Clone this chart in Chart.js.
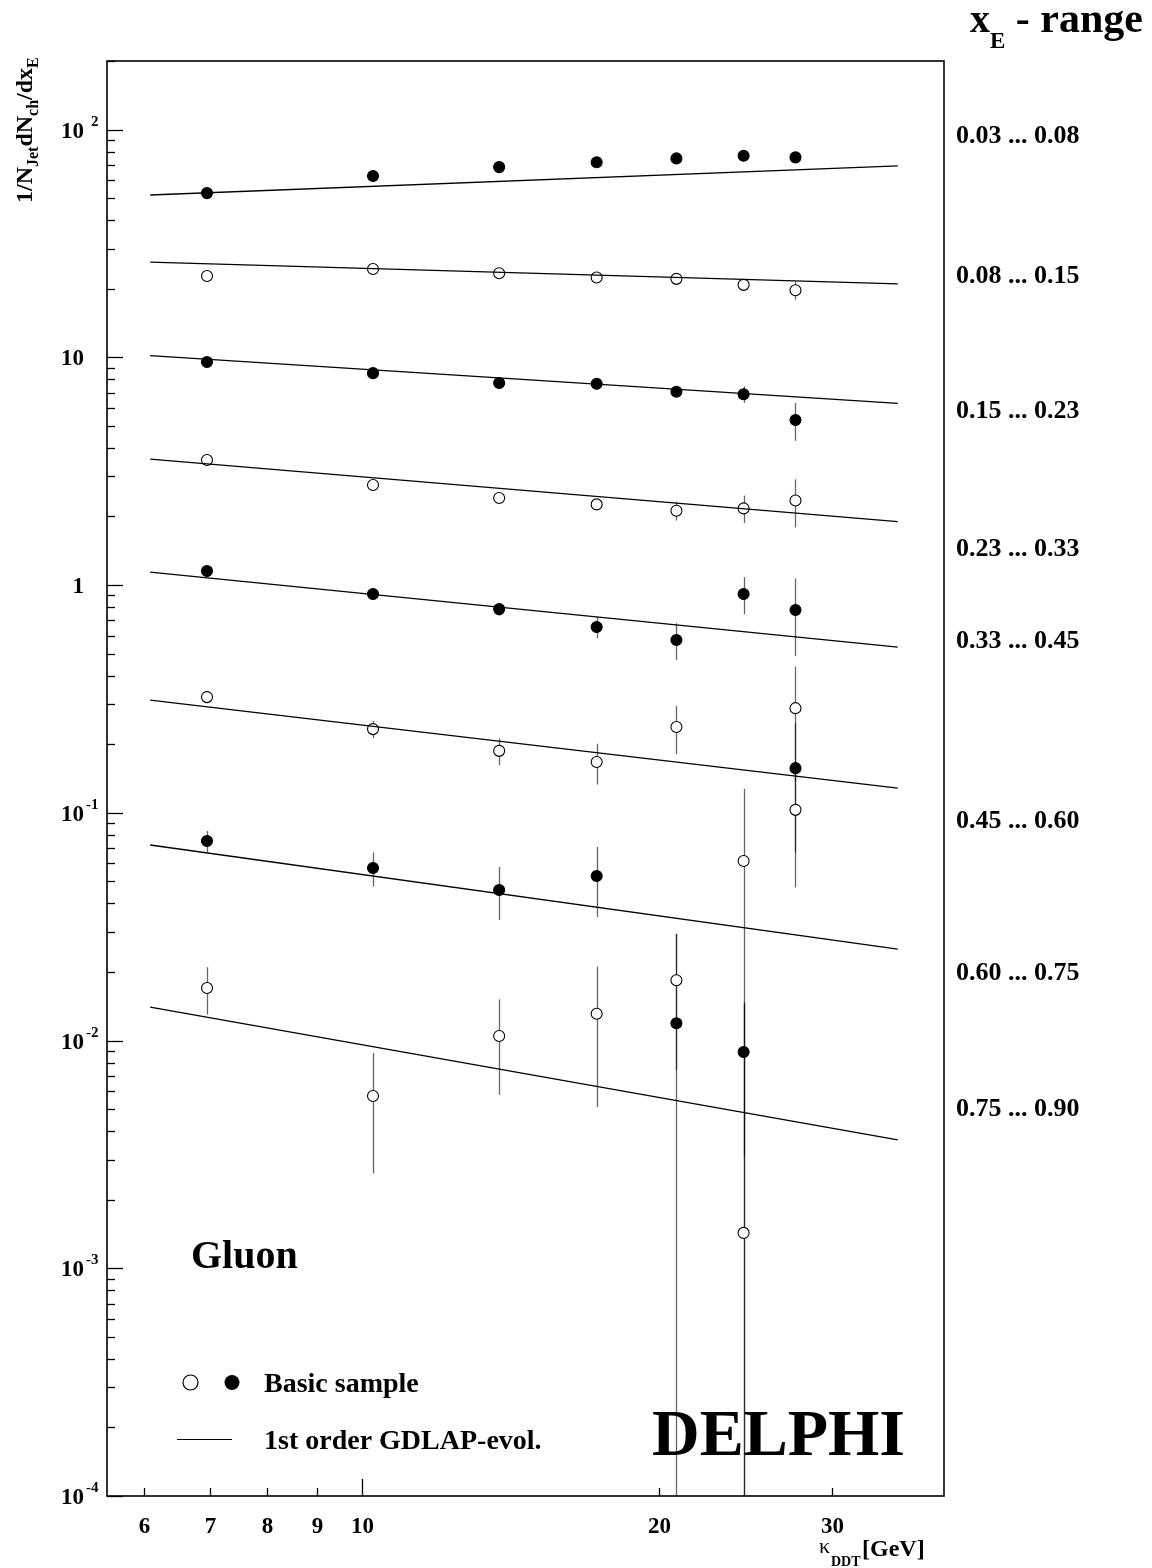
<!DOCTYPE html>
<html>
<head>
<meta charset="utf-8">
<script src="https://cdn.jsdelivr.net/npm/chart.js@4.4.1/dist/chart.umd.min.js"></script>
<style>
  html, body { margin: 0; padding: 0; background: #fff; }
  canvas { display: block; }
</style>
</head>
<body>
<canvas id="chart" width="1152" height="1568"></canvas>
<script>
// kappa_DDT bin positions (GeV)
const kappa = [6.95, 10.25, 13.77, 17.3, 20.85, 24.4, 27.55];

// x_E ranges, top to bottom
const xeRanges = ['0.03 ... 0.08', '0.08 ... 0.15', '0.15 ... 0.23', '0.23 ... 0.33',
                  '0.33 ... 0.45', '0.45 ... 0.60', '0.60 ... 0.75', '0.75 ... 0.90'];
// true = filled marker, false = open marker
const filled = [true, false, true, false, true, false, true, false];

// 1/N dN/dx_E per range
const vals1 = [52.6, 62.5, 68.4, 71.8, 74.7, 76.7, 75.5];
const vals2 = [22.75, 24.4, 23.4, 22.4, 22.1, 20.8, 19.7];
const vals3 = [9.53, 8.52, 7.71, 7.65, 7.06, 6.88, 5.30];
const vals4 = [3.54, 2.75, 2.41, 2.26, 2.12, 2.17, 2.35];
const vals5 = [1.152, 0.913, 0.784, 0.654, 0.574, 0.913, 0.777];
const vals6 = [0.322, 0.233, 0.187, 0.167, 0.238, 0.0614, 0.288];
const vals7 = [0.0752, 0.0572, 0.0458, 0.0528, 0.0119, 0.0089, 0.157];
const vals8 = [0.0170, 0.00571, 0.01047, 0.0131, 0.0184, 0.00143, 0.103];

// errors (symmetric)
const errs1 = [0.8, 0.9, 1.0, 1.1, 1.2, 1.4, 1.6];
const errs2 = [0.3, 0.4, 0.5, 0.6, 0.8, 1.0, 1.8];
const errs3 = [0.1, 0.12, 0.15, 0.2, 0.25, 0.57, 1.0];
const errs4 = [0.04, 0.05, 0.07, 0.1, 0.2, 0.3, 0.56];
const errs5 = [0.02, 0.03, 0.05, 0.07, 0.105, 0.17, 0.29];
const errs6 = [0.005, 0.02, 0.025, 0.034, 0.057, 0.066, 0.15];
const errs7 = [0.008, 0.0098, 0.012, 0.018, 0.0175, 0.0058, 0.09];
const errs8 = [0.004, 0.0031, 0.0047, 0.008, 0.011, 0.013, 0.056];

// 1st order GDLAP evolution, start / end of curve
const fitKappa = [6.085, 35.0];
const fit1 = [51.6, 69.2];
const fit2 = [26.2, 21.0];
const fit3 = [10.18, 6.28];
const fit4 = [3.57, 1.90];
const fit5 = [1.14, 0.534];
const fit6 = [0.3126, 0.1284];
const fit7 = [0.0722, 0.0252];
const fit8 = [0.01403, 0.00366];

// axis ticks
const xTicks = [6, 7, 8, 9, 10, 20, 30];
const xMajor = [10];
const yExps = [-4, -3, -2, -1, 0, 1, 2];

const allVals = [vals1, vals2, vals3, vals4, vals5, vals6, vals7, vals8];
const allErrs = [errs1, errs2, errs3, errs4, errs5, errs6, errs7, errs8];
const allFits = [fit1, fit2, fit3, fit4, fit5, fit6, fit7, fit8];

// label baselines for the x_E ranges (pixels)
const rangeY = [143, 283, 418, 556, 648, 828, 980, 1116];

const SERIF = '"Liberation Serif", "Times New Roman", serif';

function font(size, bold) {
    return (bold === false ? '' : 'bold ') + size + 'px ' + SERIF;
}

// draw text made of pieces (normal / sub / superscript)
function rich(ctx, parts, x, y) {
    let cx = x;
    parts.forEach(function (p) {
        ctx.font = font(p.size, p.bold);
        ctx.fillText(p.t, cx, y + (p.dy || 0));
        cx += ctx.measureText(p.t).width;
    });
}

const datasets = [];
allFits.forEach(function (f) {
    datasets.push({
        type: 'line',
        data: fitKappa.map(function (k, i) { return { x: k, y: f[i] }; }),
        borderColor: '#000',
        borderWidth: 1.3,
        pointRadius: 0,
        fill: false
    });
});
allVals.forEach(function (v, s) {
    datasets.push({
        type: 'scatter',
        data: kappa.map(function (k, i) { return { x: k, y: v[i] }; }),
        pointRadius: 5.5,
        pointBorderWidth: 1.1,
        pointBorderColor: '#000',
        pointBackgroundColor: filled[s] ? '#000' : '#fff'
    });
});

const decor = {
    id: 'decor',
    beforeDatasetsDraw(chart) {
        // error bars, drawn under the markers
        const ctx = chart.ctx, xs = chart.scales.x, ys = chart.scales.y;
        const area = chart.chartArea;
        ctx.save();
        ctx.strokeStyle = 'rgba(0,0,0,0.6)';
        ctx.lineWidth = 1.3;
        allVals.forEach(function (v, s) {
            v.forEach(function (val, i) {
                const px = Math.round(xs.getPixelForValue(kappa[i])) + 0.5;
                const hi = val + allErrs[s][i];
                const lo = val - allErrs[s][i];
                const yTop = ys.getPixelForValue(hi);
                const yBot = lo > 0 ? Math.min(ys.getPixelForValue(lo), area.bottom) : area.bottom;
                ctx.beginPath();
                ctx.moveTo(px, yTop);
                ctx.lineTo(px, yBot);
                ctx.stroke();
            });
        });
        ctx.restore();
    },
    afterDraw(chart) {
        const ctx = chart.ctx, xs = chart.scales.x, ys = chart.scales.y;
        const a = chart.chartArea;
        ctx.save();
        ctx.fillStyle = '#000';
        ctx.strokeStyle = '#000';

        // frame
        ctx.lineWidth = 1.6;
        ctx.strokeRect(a.left, a.top, a.right - a.left, a.bottom - a.top);

        // y ticks
        ctx.lineWidth = 1.3;
        yExps.forEach(function (e) {
            for (let m = 1; m <= 9; m++) {
                const v = m * Math.pow(10, e);
                if (v > ys.max) continue;
                const py = Math.round(ys.getPixelForValue(v)) + 0.5;
                ctx.beginPath();
                ctx.moveTo(a.left, py);
                ctx.lineTo(a.left + (m === 1 ? 16 : 8), py);
                ctx.stroke();
            }
        });
        // y tick labels
        ctx.textBaseline = 'alphabetic';
        yExps.forEach(function (e) {
            const py = ys.getPixelForValue(Math.pow(10, e));
            ctx.textAlign = 'right';
            ctx.font = font(23);
            ctx.fillText(e === 0 ? '1' : '10', 84, py + 8);
            if (e !== 0 && e !== 1) {
                ctx.textAlign = 'left';
                ctx.font = font(15);
                ctx.fillText(String(e), e > 0 ? 91 : 86, py - 4);
            }
        });

        // x ticks + labels
        xTicks.forEach(function (k) {
            const px = Math.round(xs.getPixelForValue(k)) + 0.5;
            ctx.beginPath();
            ctx.moveTo(px, a.bottom);
            ctx.lineTo(px, a.bottom - (xMajor.indexOf(k) >= 0 ? 17 : 8));
            ctx.stroke();
            ctx.textAlign = 'center';
            ctx.font = font(23);
            ctx.fillText(String(k), px, 1533);
        });

        // axis titles
        ctx.textAlign = 'left';
        ctx.save();
        ctx.translate(32, 203);
        ctx.rotate(-Math.PI / 2);
        rich(ctx, [
            { t: '1/N', size: 24 }, { t: 'Jet', size: 16, dy: 6 },
            { t: 'dN', size: 24 }, { t: 'ch', size: 16, dy: 6 },
            { t: '/dx', size: 24 }, { t: 'E', size: 16, dy: 6 }
        ], 0, 0);
        ctx.restore();

        ctx.font = font(22, false);
        ctx.fillText('\u03BA', 819, 1553);
        ctx.font = font(14);
        ctx.fillText('DDT', 831, 1566);
        ctx.font = font(24);
        ctx.fillText('[GeV]', 862, 1556);

        // x_E header and range labels
        rich(ctx, [
            { t: 'x', size: 40 }, { t: 'E', size: 23, dy: 16 }, { t: ' - range', size: 42 }
        ], 970, 32);
        ctx.font = font(26);
        xeRanges.forEach(function (r, i) {
            ctx.fillText(r, 956, rangeY[i]);
        });

        // labels inside the frame
        ctx.font = font(40);
        ctx.fillText('Gluon', 191, 1268);
        ctx.font = font(66);
        ctx.fillText('DELPHI', 652, 1455);

        // legend
        ctx.lineWidth = 1.2;
        ctx.beginPath();
        ctx.arc(190.5, 1382.5, 7.5, 0, Math.PI * 2);
        ctx.fillStyle = '#fff';
        ctx.fill();
        ctx.stroke();
        ctx.fillStyle = '#000';
        ctx.beginPath();
        ctx.arc(232, 1382.5, 7.5, 0, Math.PI * 2);
        ctx.fill();
        ctx.beginPath();
        ctx.moveTo(177, 1439.5);
        ctx.lineTo(232, 1439.5);
        ctx.stroke();
        ctx.font = font(28);
        ctx.fillText('Basic sample', 264, 1392);
        ctx.fillText('1st order GDLAP-evol.', 264, 1449);

        ctx.restore();
    }
};

new Chart(document.getElementById('chart').getContext('2d'), {
    type: 'scatter',
    data: { datasets: datasets },
    options: {
        responsive: false,
        animation: false,
        devicePixelRatio: 1,
        layout: { padding: { left: 107, right: 208, top: 61, bottom: 72 } },
        plugins: {
            legend: { display: false },
            tooltip: { enabled: false }
        },
        scales: {
            x: { type: 'logarithmic', min: 5.5, max: 39, display: false },
            y: { type: 'logarithmic', min: 1e-4, max: 200, display: false }
        }
    },
    plugins: [decor]
});
</script>
</body>
</html>
